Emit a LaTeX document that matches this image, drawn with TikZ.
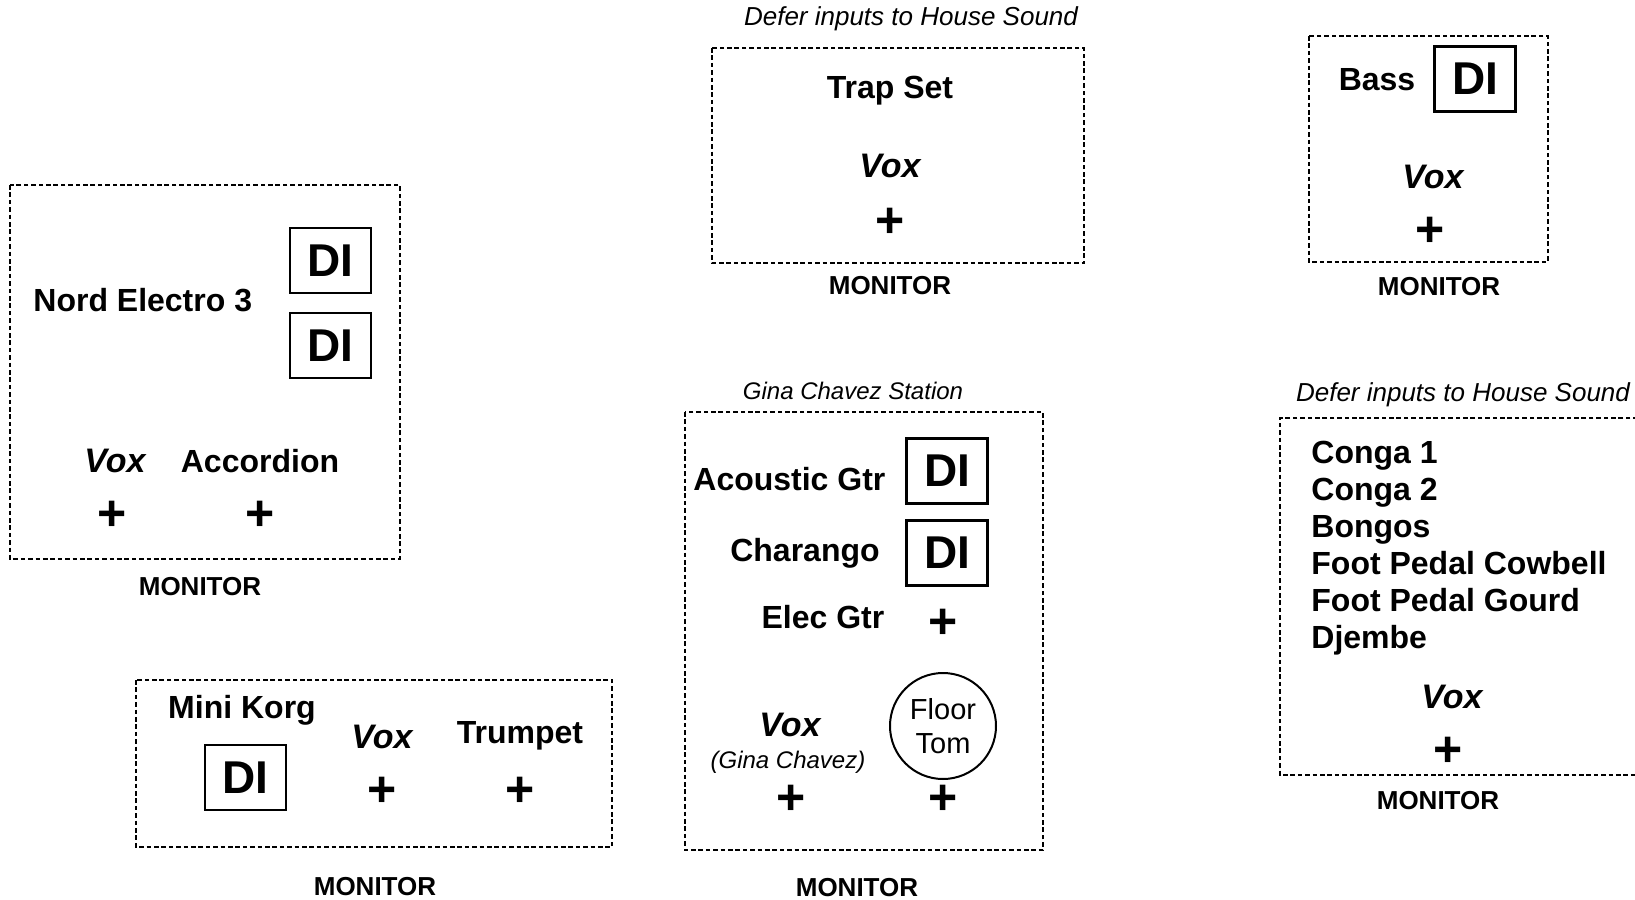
\documentclass[tikz,border=0pt]{standalone}
\usepackage{fontspec}
\setmainfont{Liberation Sans}
\usepackage{tikz}
\usetikzlibrary{positioning}

\begin{document}
\begin{tikzpicture}[
  x=0.5pt, y=-0.5pt,
  zone/.style={draw, line width=1.4pt, dash pattern=on 2.3pt off 1.4pt},
  inst/.style={font=\bfseries\fontsize{16}{18.5}\selectfont, inner sep=0pt},
  vox/.style={font=\bfseries\itshape\fontsize{17}{20}\selectfont, inner sep=0pt},
  di/.style={draw, line width=1.2pt, minimum width=40.5pt, minimum height=32.5pt, inner sep=0pt, font=\bfseries\fontsize{23}{26}\selectfont},
  jack/.style={font=\bfseries\fontsize{25}{28}\selectfont, inner sep=0pt},
  mon/.style={font=\bfseries\fontsize{13}{15}\selectfont, inner sep=0pt},
  note/.style={font=\itshape\fontsize{13}{15}\selectfont, inner sep=0pt}
]
  \useasboundingbox (0,0) rectangle (1635,900);

  % keys
  \draw[zone] (10,185) rectangle (400,559);
  \node[inst, anchor=west] (nord) at (33,300) {Nord Electro 3};
  \node[di] (nordDIa) at (330.5,260.5) {DI};
  \node[di] (nordDIb) at (330.5,345.5) {DI};
  \node[vox] (nordVox) at (115,461) {Vox};
  \node[inst] (accordion) at (260,461) {Accordion};
  \node[jack] (nordJa) at (112,516) {+};
  \node[jack] (nordJb) at (260,516) {+};
  \node[mon] (nordMon) at (200,587) {MONITOR};

  % drums
  \node[note] (trapNote) at (911,19) {Defer inputs to House Sound};
  \draw[zone] (712,48) rectangle (1084,263);
  \node[inst] (trap) at (890,91) {Trap Set};
  \node[vox] (trapVox) at (890,166) {Vox};
  \node[jack] (trapJ) at (890,223) {+};
  \node[mon] (trapMon) at (890,286) {MONITOR};

  % bass
  \draw[zone] (1309,36) rectangle (1548,262);
  \node[inst] (bass) at (1377,80) {Bass};
  \node[di] (bassDI) at (1475,79) {DI};
  \node[vox] (bassVox) at (1433,177) {Vox};
  \node[jack] (bassJ) at (1430,232) {+};
  \node[mon] (bassMon) at (1439,287) {MONITOR};

  % Gina
  \node[note, font=\itshape\fontsize{12}{14}\selectfont] (ginaNote) at (853,391) {Gina Chavez Station};
  \draw[zone] (685,412) rectangle (1043,850);
  \node[inst, anchor=west] (acoustic) at (693,479) {Acoustic Gtr};
  \node[di] (ginaDIa) at (947,471) {DI};
  \node[inst] (charango) at (805,553) {Charango};
  \node[di] (ginaDIb) at (947,553) {DI};
  \node[inst] (elec) at (823,617) {Elec Gtr};
  \node[jack] (elecJ) at (943,624) {+};
  \node[draw, circle, line width=1pt, minimum size=53pt, inner sep=0pt, align=center,
        font=\fontsize{14.5}{17}\selectfont] (floorTom) at (943,726) {Floor\\Tom};
  \node[vox] (ginaVox) at (790,725) {Vox};
  \node[font=\itshape\fontsize{12}{14}\selectfont, inner sep=0pt] (ginaName) at (788,762) {(Gina Chavez)};
  \node[jack] (ginaJa) at (791,800) {+};
  \node[jack] (ginaJb) at (943,800) {+};
  \node[mon] (ginaMon) at (857,888) {MONITOR};

  % percussion
  \node[note] (percNote) at (1463,395) {Defer inputs to House Sound};
  \draw[zone] (1660,418) -- (1280,418) -- (1280,775) -- (1660,775);
  \node[inst, anchor=west, align=left] (perc) at (1311,548)
    {Conga 1\\Conga 2\\Bongos\\Foot Pedal Cowbell\\Foot Pedal Gourd\\Djembe};
  \node[vox] (percVox) at (1452,697) {Vox};
  \node[jack] (percJ) at (1448,752) {+};
  \node[mon] (percMon) at (1438,801) {MONITOR};

  % mini korg
  \draw[zone] (136,680) rectangle (612,847);
  \node[inst] (korg) at (242,710) {Mini Korg};
  \node[di] (korgDI) at (245.5,777.5) {DI};
  \node[vox] (korgVox) at (382,737) {Vox};
  \node[inst] (trumpet) at (520,736) {Trumpet};
  \node[jack] (korgJa) at (382,792) {+};
  \node[jack] (korgJb) at (520,792) {+};
  \node[mon] (korgMon) at (375,887) {MONITOR};
\end{tikzpicture}
\end{document}
